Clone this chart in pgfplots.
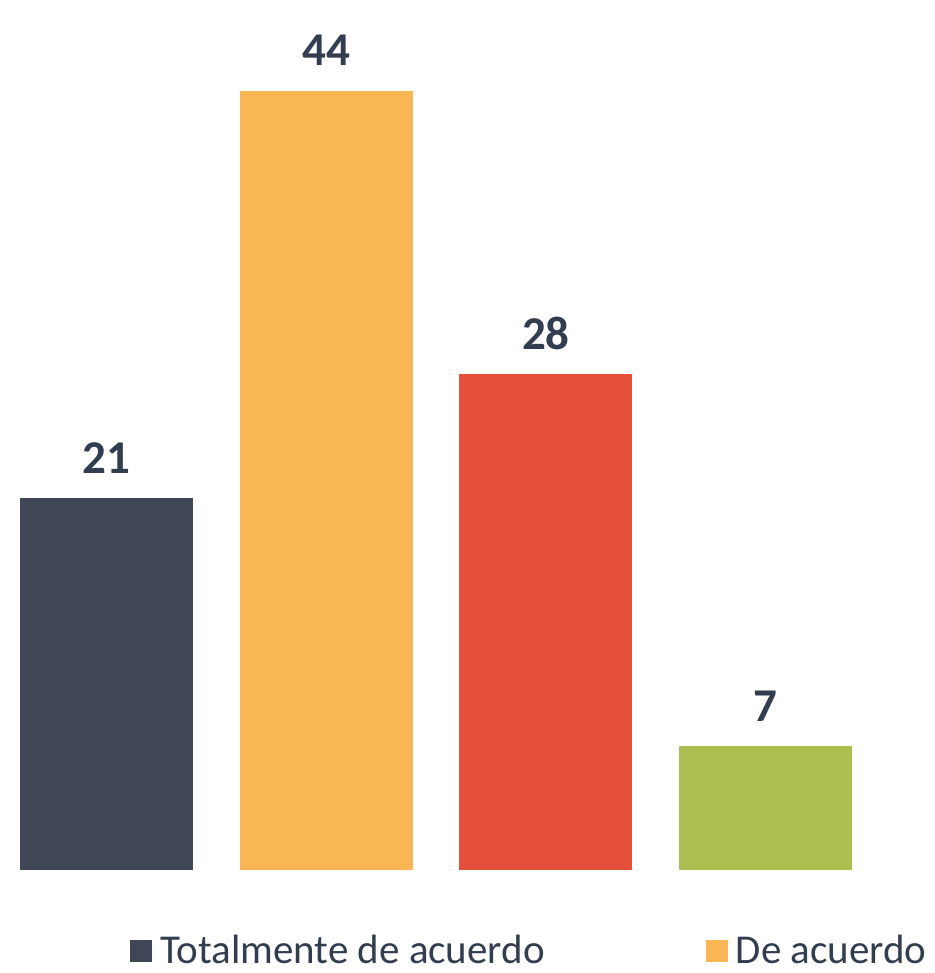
\documentclass[border=0pt]{standalone}
\usepackage{fontspec}
\setmainfont{Carlito}
\usepackage{pgfplots}
\pgfplotsset{compat=1.18}
\definecolor{cdark}{HTML}{3F4655}
\definecolor{corange}{HTML}{F9B654}
\definecolor{cred}{HTML}{E5503A}
\definecolor{cgreen}{HTML}{AEBE52}
\definecolor{clabel}{HTML}{323D4F}
\begin{document}
\begin{tikzpicture}
\useasboundingbox (0,0) rectangle (467.5pt,486.5pt);
\begin{axis}[
  at={(0pt,51.5pt)}, anchor=south west,
  scale only axis, width=467.5pt, height=435pt,
  xmin=-0.4848, xmax=3.7717, ymin=0, ymax=49.14,
  hide axis, clip=false,
  ybar, bar width=86.5pt, bar shift=0pt,
  /pgf/number format/assume math mode=true,
  nodes near coords={\textbf{\pgfmathprintnumber{\pgfplotspointmeta}}},
  every node near coord/.append style={font=\fontsize{23.5}{28}\selectfont\bfseries,
    text=clabel, anchor=base, yshift=12.5pt},
  legend style={draw=none, fill=none, at={(0.1325,-0.1205)}, anchor=south west,
    font=\fontsize{20.5}{24}\selectfont, text=clabel,
    /tikz/every even column/.append style={column sep=78.5pt}},
  legend columns=2,
  legend image code/.code={\fill[#1,draw=none] (0pt,-5.5pt) rectangle (11pt,5.5pt); \path (13pt,0pt);},
]
\addplot[fill=cdark, draw=none] coordinates {(0,21)};
\addplot[fill=corange, draw=none] coordinates {(1,44)};
\addplot[fill=cred, draw=none] coordinates {(2,28)};
\addplot[fill=cgreen, draw=none] coordinates {(3,7)};
\legend{Totalmente de acuerdo, De acuerdo}
\end{axis}
\end{tikzpicture}
\end{document}
